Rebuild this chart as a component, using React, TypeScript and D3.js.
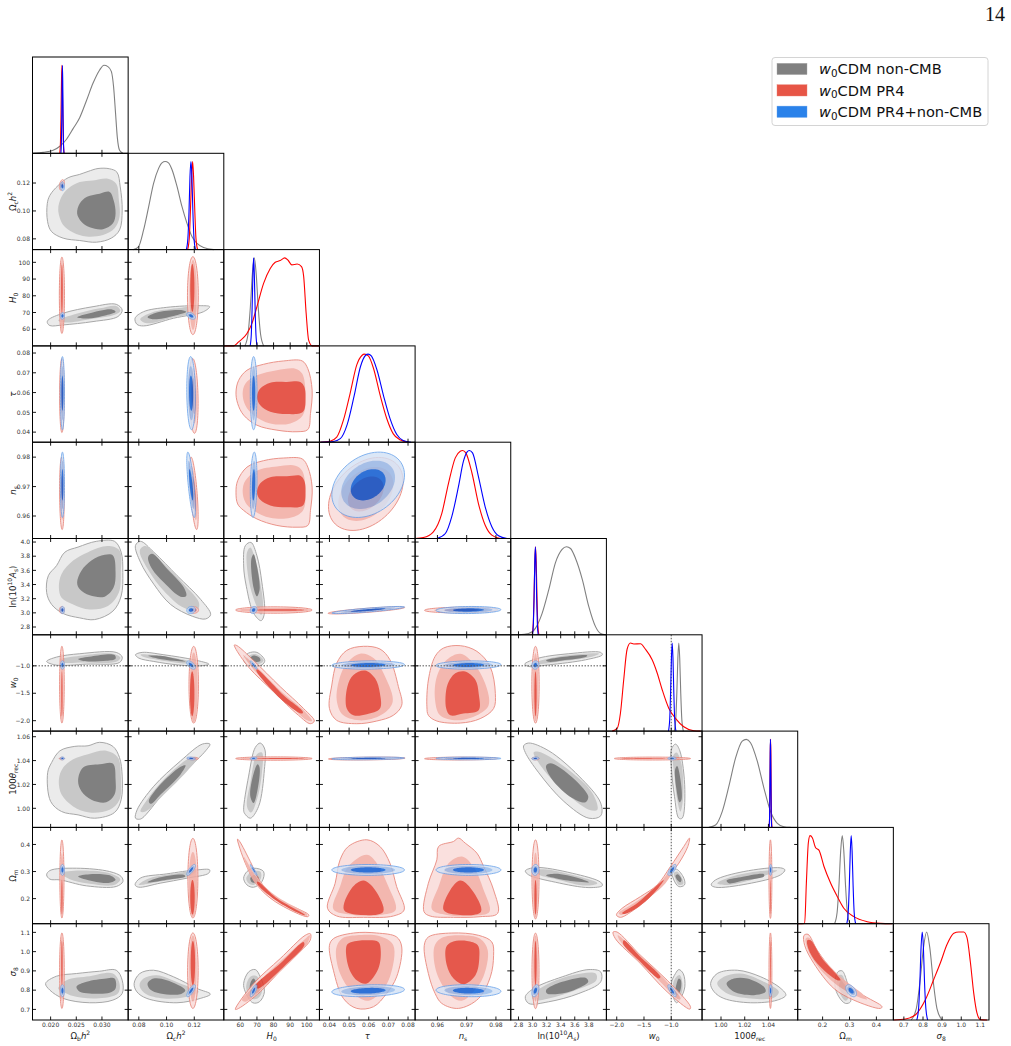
import React from 'react';
import * as d3 from 'd3';

// parameter order: Ωb h², Ωc h², H0, τ, ns, ln(10^10 As), w0, 100θrec, Ωm, σ8
const ranges: [number, number][] = [[0.01647, 0.0351], [0.0723, 0.1413], [50.06, 107.6], [0.0349, 0.0836], [0.95236, 0.98507], [2.69, 4.05], [-2.19, -0.434], [0.984, 1.0647], [0.1074, 0.463], [0.645, 1.145]];
const xTickValues = [[0.02, 0.025, 0.03], [0.08, 0.1, 0.12], [60, 70, 80, 90, 100], [0.04, 0.05, 0.06, 0.07, 0.08], [0.96, 0.97, 0.98], [2.8, 3.0, 3.2, 3.4, 3.6, 3.8], [-2, -1.5, -1], [1.0, 1.02, 1.04], [0.2, 0.3, 0.4], [0.7, 0.8, 0.9, 1.0, 1.1]];
const xTickLabels = [['0.020', '0.025', '0.030'], ['0.08', '0.10', '0.12'], ['60', '70', '80', '90', '100'], ['0.04', '0.05', '0.06', '0.07', '0.08'], ['0.96', '0.97', '0.98'], ['2.8', '3.0', '3.2', '3.4', '3.6', '3.8'], ['−2.0', '−1.5', '−1.0'], ['1.00', '1.02', '1.04'], ['0.2', '0.3', '0.4'], ['0.7', '0.8', '0.9', '1.0', '1.1']];
const yTickValues = [[], [0.08, 0.1, 0.12], [60, 70, 80, 90, 100], [0.04, 0.05, 0.06, 0.07, 0.08], [0.96, 0.97, 0.98], [2.8, 3.0, 3.2, 3.4, 3.6, 3.8, 4.0], [-2, -1.5, -1], [1.0, 1.02, 1.04, 1.06], [0.2, 0.3, 0.4], [0.7, 0.8, 0.9, 1.0, 1.1]];
const yTickLabels = [[], ['0.08', '0.10', '0.12'], ['60', '70', '80', '90', '100'], ['0.04', '0.05', '0.06', '0.07', '0.08'], ['0.96', '0.97', '0.98'], ['2.8', '3.0', '3.2', '3.4', '3.6', '3.8', '4.0'], ['−2.0', '−1.5', '−1.0'], ['1.00', '1.02', '1.04', '1.06'], ['0.2', '0.3', '0.4'], ['0.7', '0.8', '0.9', '1.0', '1.1']];

type Seg = { t: string; i?: boolean; sub?: boolean; sup?: boolean };
const axisLabels: Seg[][] = [
  [{ t: 'Ω' }, { t: 'b', sub: true }, { t: 'h', i: true }, { t: '2', sup: true }],
  [{ t: 'Ω' }, { t: 'c', sub: true }, { t: 'h', i: true }, { t: '2', sup: true }],
  [{ t: 'H', i: true }, { t: '0', sub: true }],
  [{ t: 'τ', i: true }],
  [{ t: 'n', i: true }, { t: 's', sub: true }],
  [{ t: 'ln(10' }, { t: '10', sup: true }, { t: 'A', i: true }, { t: 's', sub: true }, { t: ')' }],
  [{ t: 'w', i: true }, { t: '0', sub: true }],
  [{ t: '100' }, { t: 'θ', i: true }, { t: 'rec', sub: true }],
  [{ t: 'Ω' }, { t: 'm', sub: true }],
  [{ t: 'σ', i: true }, { t: '8', sub: true }],
];
const legendNames = ['CDM non-CMB', 'CDM PR4', 'CDM PR4+non-CMB'];
const wDashed = -1;

// one-dimensional marginals
const peak = [0, 0.13, 0.43, 0.83, 1, 0.83, 0.43, 0.13, 0];
const grayDiag: [number, number[], number[]][] = [
  [0, [.01663, .01856, .0205, .0218, .0231, .02438, .02568, .02697, .02825, .02955, .03039, .03116, .03182, .03226, .03265, .03298, .03343, .03407], [0, .011, .034, .08, .16, .28, .407, .597, .795, .947, 1, .985, .93, .757, .452, .186, .034, 0]],
  [1, [.0761, .0797, .0834, .087, .0906, .0942, .0967, .099, .1014, .1039, .1075, .1111, .1147, .1184, .122, .1267, .134], [0, .03, .22, .48, .75, .92, .985, 1, .985, .91, .72, .49, .3, .145, .07, .023, 0]],
  [2, [62.7, 64.6, 66, 67.3, 68.4, 69.5, 70.8, 72.2, 74.1], peak],
  [5, [2.8, 2.944, 3.04, 3.136, 3.23, 3.326, 3.42, 3.483, 3.54, 3.61, 3.707, 3.8, 3.897, 3.968, 4.04], [0, .015, .073, .244, .51, .82, .97, 1, .98, .87, .63, .32, .09, .015, 0]],
  [6, [-.945, -.917, -.897, -.878, -.861, -.844, -.825, -.805, -.777], peak],
  [7, [.9897, .9954, 1.001, 1.0066, 1.0123, 1.0179, 1.0213, 1.0249, 1.0306, 1.0362, 1.0418, 1.0475, 1.053, 1.0587], [0, .027, .18, .466, .79, .98, 1, .962, .752, .447, .18, .046, .008, 0]],
  [8, [.2445, .254, .2607, .2673, .273, .2787, .2853, .292, .3015], peak],
  [9, [.738, .765, .784, .803, .819, .835, .854, .873, .9], peak],
];
const redDiag: [number, number[], number[]][] = [
  [0, [.02178, .02192, .02202, .02212, .0222, .02228, .02238, .02248, .02262], peak],
  [1, [.1152, .1164, .1172, .1181, .1188, .1195, .1204, .1212, .1224], peak],
  [2, [50, 56, 59, 64, 67, 70, 74, 78, 81, 84, 86.7, 88.7, 91, 94.2, 96.8, 98.1, 99.6, 101.1, 103.2, 107.6], [0, 0, .046, .14, .256, .447, .71, .88, .95, .97, 1, .973, .92, .93, .9, .79, .37, .065, 0, 0]],
  [3, [.0353, .0403, .0437, .0471, .0505, .0539, .0565, .0578, .0598, .0624, .0658, .0692, .0725, .0759, .0801], [0, .011, .057, .25, .553, .878, .985, 1, .98, .84, .534, .267, .095, .027, 0]],
  [4, [.95236, .9552, .9586, .9615, .9638, .9661, .9678, .9686, .9697, .9718, .974, .9763, .9786, .9815], [0, .011, .076, .286, .63, .916, .992, 1, .973, .744, .4, .153, .038, 0]],
  [5, [2.994, 3.01, 3.021, 3.032, 3.042, 3.052, 3.063, 3.074, 3.09], peak],
  [6, [-2.085, -1.993, -1.933, -1.872, -1.81, -1.749, -1.688, -1.565, -1.473, -1.35, -1.258, -1.166, -1.045, -.922, -.769, -.585, -.462], [0, .03, .2, .584, .93, 1, .99, .992, .93, .81, .66, .47, .26, .145, .05, .004, 0]],
  [7, [1.0406, 1.041, 1.0413, 1.0415, 1.0418, 1.0421, 1.0423, 1.0426, 1.043], peak],
  [8, [.1085, .1333, .1396, .147, .1531, .1618, .174, .1863, .2048, .2296, .2544, .2789, .3159, .3655, .4148, .458], [0, .004, .46, .92, 1, .977, .863, .836, .653, .462, .31, .176, .08, .023, .004, 0]],
  [9, [.648, .709, .761, .813, .856, .891, .926, .961, .987, 1.013, 1.03, 1.048, 1.065, 1.082, 1.1, 1.135], [0, .011, .06, .232, .46, .65, .86, .985, 1, 1, .935, .65, .308, .08, .004, 0]],
];
const blueDiag: [number, number[], number[]][] = [
  [0, [.022, .0221, .02217, .02224, .0223, .02236, .02243, .0225, .0226], peak],
  [1, [.1143, .1154, .1162, .1169, .1176, .1183, .119, .1198, .1209], peak],
  [2, [65.9, 66.6, 67.1, 67.6, 68, 68.4, 68.9, 69.4, 70.1], peak],
  [3, [.0355, .042, .0455, .049, .0525, .0558, .0583, .0597, .0613, .0642, .0675, .0708, .0742, .0775, .0815], [0, .008, .04, .2, .52, .86, .985, 1, .98, .82, .53, .27, .09, .02, 0]],
  [4, [.9598, .9627, .9649, .9672, .9689, .9701, .9709, .972, .974, .9763, .9786, .9809, .9838], [0, .057, .248, .592, .878, .981, 1, .973, .706, .363, .134, .031, 0]],
  [5, [3.0, 3.012, 3.022, 3.032, 3.04, 3.048, 3.058, 3.068, 3.08], peak],
  [6, [-1.051, -1.028, -1.012, -.996, -.982, -.968, -.952, -.936, -.913], peak],
  [7, [1.0406, 1.041, 1.0412, 1.0415, 1.0417, 1.0419, 1.0422, 1.0424, 1.0428], peak],
  [8, [.2898, .2953, .2992, .303, .3063, .3096, .3134, .3173, .3228], peak],
  [9, [.7675, .777, .7836, .79, .796, .802, .808, .815, .8245], peak],
];

type Pts = [number[], number[]];
type Blob = [number, number, Pts, Pts, Pts];
const grayBlobs: Blob[] = [
  [0, 1,
    [[.01935, .01986, .02148, .02341, .02567, .02729, .02923, .03149, .03291, .03356, .03394, .03343, .03181, .02891, .02567, .02245, .02018, .01941], [.1053, .1112, .1183, .1238, .1262, .1283, .1304, .1302, .1278, .1172, .1006, .0864, .0805, .0776, .0788, .0805, .0852, .0923]],
    [[.02148, .02212, .02341, .02567, .02826, .03117, .03278, .0333, .03343, .03246, .0302, .02697, .02438, .02245], [.1006, .1101, .116, .1207, .1219, .1231, .1195, .1077, .0959, .0876, .0828, .0817, .0845, .0899]],
    [[.02516, .02567, .02709, .02955, .03149, .03227, .03265, .03214, .0302, .02761, .026], [.0982, .1053, .1101, .1124, .1136, .1077, .0982, .0911, .0869, .0883, .0923]]],
  [0, 2,
    [[.01935, .01954, .02245, .02826, .03278, .03394, .03311, .02826, .02245, .01986], [64, 65.6, 69.6, 73.5, 74.9, 71.5, 67.6, 64.6, 62.6, 62.2]],
    [[.02148, .02503, .02955, .03278, .03356, .03246, .02761, .02309], [65.2, 69.2, 72.5, 73.9, 71.1, 68.6, 66, 64]],
    [[.02516, .02761, .03181, .03265, .03084, .02697], [67.2, 69.6, 71.9, 70.5, 68.4, 66.4]]],
  [0, 5,
    [[.01923, .01955, .02116, .02277, .02535, .0289, .03245, .03374, .03406, .03374, .03213, .02858, .02568, .02245, .02019], [3.286, 3.524, 3.667, 3.857, 3.929, 4.01, 4.01, 3.857, 3.571, 3.238, 3.024, 2.905, 2.929, 2.99, 3.119]],
    [[.02161, .02213, .02439, .02729, .03116, .03342, .03368, .03329, .03116, .02761, .02439, .02213], [3.357, 3.548, 3.738, 3.857, 3.943, 3.881, 3.571, 3.286, 3.095, 3.048, 3.119, 3.214]],
    [[.02516, .026, .02794, .03052, .03213, .03265, .03226, .03052, .02761, .02568], [3.429, 3.595, 3.738, 3.819, 3.81, 3.571, 3.357, 3.229, 3.248, 3.333]]],
  [0, 6,
    [[.01923, .02116, .02568, .03277, .03394, .03342, .02697, .02116], [-.92, -.84, -.779, -.755, -.84, -.939, -.969, -.988]],
    [[.0218, .02568, .03213, .03361, .03277, .02632, .02245], [-.89, -.816, -.779, -.853, -.926, -.939, -.939]],
    [[.02535, .02794, .03245, .03265, .03084, .02632], [-.877, -.828, -.804, -.871, -.908, -.914]]],
  [0, 7,
    [[.01942, .02019, .02181, .02471, .02729, .02955, .03213, .03342, .03394, .03374, .03245, .02858, .02535, .02213, .02], [1.0298, 1.0383, 1.0482, 1.0519, 1.0524, 1.0553, 1.0519, 1.0425, 1.027, 1.0072, .9965, .9917, .9945, .9973, 1.0058]],
    [[.02161, .02245, .02439, .02729, .03084, .0331, .03368, .03342, .03148, .02761, .02439, .02213], [1.0242, 1.0341, 1.0411, 1.0454, 1.0482, 1.0425, 1.027, 1.0072, .9988, .9965, 1.0016, 1.0115]],
    [[.02535, .02632, .02955, .03213, .03265, .03245, .03084, .02794, .026], [1.0228, 1.0341, 1.0369, 1.0375, 1.0242, 1.0115, 1.005, 1.0072, 1.0143]]],
  [0, 8,
    [[.01922, .01986, .02503, .03149, .03375, .03408, .03278, .02697, .0218, .01986], [.2877, .3037, .3123, .3, .2816, .2632, .2448, .2472, .2693, .2718]],
    [[.02212, .02567, .03149, .03356, .03246, .02761, .02374], [.2939, .3037, .2939, .2718, .2509, .2546, .2718]],
    [[.02535, .02761, .03181, .03265, .03149, .02826], [.2816, .2902, .284, .2693, .2583, .2644]]],
  [0, 9,
    [[.01902, .02115, .02503, .02955, .03278, .03394, .03394, .03213, .02761, .02245, .01986], [.8345, .8724, .8862, .8983, .9034, .8517, .7828, .7483, .7345, .7569, .8]],
    [[.02148, .0231, .02761, .03213, .03342, .0331, .02891, .02438, .02245], [.8086, .8517, .8724, .8862, .8345, .7828, .7569, .769, .7914]],
    [[.02503, .027, .03084, .03246, .03265, .03149, .02761, .02567], [.8172, .8431, .8603, .8603, .8086, .7862, .7828, .7914]]],
  [1, 2,
    [[.0773, .0834, .1002, .1243, .1311, .1267, .1051, .0834, .0786], [66.6, 70.5, 73.1, 74.1, 73.5, 70.5, 66.6, 62, 63]],
    [[.081, .0894, .1075, .1231, .1207, .1051, .0858], [66, 70, 72.5, 73.5, 70, 67.2, 63.6]],
    [[.0863, .093, .1099, .1142, .1051, .0906], [67.2, 70, 71.5, 70.5, 68, 66]]],
  [1, 5,
    [[.0776, .0812, .0908, .1077, .1246, .1318, .1282, .1186, .1029, .0908, .0812], [3.952, 4.01, 3.857, 3.524, 3.19, 2.976, 2.914, 2.952, 3.119, 3.405, 3.714]],
    [[.0807, .0848, .0957, .1125, .1234, .1222, .1125, .0981, .0872], [3.881, 3.943, 3.738, 3.405, 3.143, 3.038, 3.071, 3.31, 3.595]],
    [[.0867, .0896, .1005, .1125, .1142, .1101, .0981, .0896], [3.786, 3.833, 3.619, 3.357, 3.238, 3.229, 3.429, 3.619]]],
  [1, 6,
    [[.0776, .0824, .0981, .1198, .1306, .1246, .1077, .0908, .08], [-.798, -.755, -.798, -.89, -.969, -1, -.982, -.92, -.859]],
    [[.0812, .0957, .1149, .1234, .1101, .0933, .0836], [-.798, -.816, -.902, -.969, -.951, -.89, -.841]],
    [[.0867, .0957, .1077, .1137, .1053, .0933], [-.816, -.816, -.877, -.92, -.908, -.865]]],
  [1, 7,
    [[.0776, .0788, .0908, .1101, .1258, .1313, .1282, .1149, .0981, .0824, .08], [.9917, .9988, 1.0185, 1.0397, 1.0538, 1.0538, 1.0482, 1.0327, 1.0129, .9917, .9908]],
    [[.0812, .086, .1005, .1173, .1222, .1149, .0981, .0848], [.9973, 1.0072, 1.027, 1.0425, 1.0425, 1.0312, 1.0115, .9973]],
    [[.0872, .0933, .1101, .1137, .1101, .0957, .0889], [1.0058, 1.0171, 1.0349, 1.036, 1.0284, 1.0115, 1.0038]]],
  [1, 8,
    [[.0773, .081, .1002, .1219, .1311, .1304, .1147, .0954, .0798], [.2509, .2755, .2914, .3061, .3061, .2939, .2755, .2571, .2423]],
    [[.0798, .0858, .1051, .1219, .1171, .0954, .0822], [.2509, .2718, .2914, .3025, .284, .2632, .2509]],
    [[.0863, .093, .1123, .1135, .1002, .0882], [.2607, .2755, .2877, .2816, .2693, .2595]]],
  [1, 9,
    [[.0766, .0807, .0906, .1051, .1219, .1316, .1243, .1075, .0858, .0786], [.8345, .8862, .9034, .869, .8086, .7793, .7569, .7345, .7569, .7914]],
    [[.0805, .0834, .093, .1099, .1231, .1147, .0978, .0846], [.8259, .8603, .8776, .8345, .7914, .7655, .7569, .7828]],
    [[.0863, .0906, .1002, .1135, .1099, .0954, .0882], [.8345, .8603, .8517, .8, .7793, .7828, .8034]]],
  [2, 5,
    [[63, 66.4, 70, 73, 74.5, 72.5, 68, 63.6, 62], [3.948, 3.995, 3.805, 3.424, 2.995, 2.89, 2.995, 3.376, 3.662]],
    [[64, 66, 69, 72, 73.7, 72.5, 69, 65], [3.852, 3.924, 3.757, 3.424, 3.09, 2.971, 3.138, 3.471]],
    [[66.6, 68, 70, 71.6, 70, 68], [3.757, 3.829, 3.662, 3.329, 3.233, 3.352]]],
  [2, 6,
    [[62, 65, 70, 74.7, 73, 67, 63], [-.859, -.767, -.755, -.902, -.982, -1, -.951]],
    [[63.6, 66, 70, 74, 71, 66], [-.877, -.804, -.791, -.902, -.969, -.951]],
    [[66, 68, 71.6, 72, 69], [-.859, -.81, -.853, -.914, -.926]]],
  [2, 7,
    [[62, 65, 69, 72, 74.7, 74.5, 71, 66, 62.5], [.9988, 1.027, 1.051, 1.0547, 1.0496, 1.0327, 1.0016, .9917, .9959]],
    [[64, 66, 70, 73, 73, 70, 66.4], [1.0016, 1.0214, 1.0454, 1.0468, 1.0298, 1.0072, .9965]],
    [[66, 67.6, 70.4, 71.6, 70.4, 68], [1.0101, 1.027, 1.0369, 1.0341, 1.0157, 1.0044]]],
  [2, 8,
    [[62, 64, 68, 74, 73, 68, 64], [.2753, .3, .3123, .3, .263, .242, .2506]],
    [[63.6, 67, 72, 72.4, 68, 65], [.2753, .3, .3, .2753, .2506, .2568]],
    [[66, 68.4, 71, 70, 67], [.2753, .2877, .279, .2605, .2605]]],
  [2, 9,
    [[62, 65, 69, 72, 74.5, 71.5, 67.5, 63], [.8345, .8948, .9069, .869, .7914, .7397, .7345, .7914]],
    [[63.6, 66, 70, 73, 70.4, 66, 64], [.8259, .869, .8724, .7914, .7569, .7569, .7914]],
    [[66, 68, 70.4, 71.6, 69, 66], [.8345, .8603, .8259, .7914, .7828, .7914]]],
  [5, 6,
    [[2.888, 3.088, 3.516, 3.969, 3.992, 3.754, 3.23, 2.945], [-.969, -.859, -.779, -.755, -.798, -.89, -.982, -1.012]],
    [[3.016, 3.373, 3.945, 3.826, 3.325, 3.064], [-.951, -.828, -.779, -.84, -.933, -.969]],
    [[3.192, 3.421, 3.778, 3.754, 3.421, 3.23], [-.902, -.84, -.81, -.84, -.902, -.926]]],
  [5, 7,
    [[2.873, 2.945, 3.23, 3.659, 3.969, 3.969, 3.802, 3.445, 3.088, 2.897], [1.0524, 1.0547, 1.0482, 1.027, 1.0044, .9937, .9917, 1.0058, 1.0298, 1.0468]],
    [[3.016, 3.088, 3.469, 3.85, 3.921, 3.802, 3.421, 3.135], [1.0468, 1.0473, 1.0341, 1.0129, .9988, .9988, 1.0157, 1.0341]],
    [[3.192, 3.254, 3.516, 3.792, 3.754, 3.564, 3.278], [1.0355, 1.0377, 1.0284, 1.01, 1.005, 1.0086, 1.0242]]],
  [5, 8,
    [[2.897, 3.04, 3.564, 3.969, 3.992, 3.802, 3.326, 2.945], [.3025, .3148, .2938, .2605, .2481, .2407, .2605, .2877]],
    [[3.016, 3.16, 3.564, 3.921, 3.754, 3.373, 3.088], [.3025, .3086, .2877, .2568, .2481, .2691, .2877]],
    [[3.192, 3.326, 3.659, 3.802, 3.611, 3.326], [.2852, .2914, .2753, .2605, .263, .2753]]],
  [5, 9,
    [[2.897, 3.016, 3.421, 3.802, 3.969, 3.969, 3.659, 3.23, 2.945], [.7655, .8086, .869, .9069, .8948, .8431, .7828, .7397, .731]],
    [[2.992, 3.183, 3.564, 3.897, 3.907, 3.61, 3.23, 3.016], [.7741, .8259, .8776, .8862, .8517, .8, .7569, .7483]],
    [[3.192, 3.421, 3.754, 3.792, 3.588, 3.326, 3.207], [.8, .8431, .8638, .8431, .8, .7793, .7828]]],
  [6, 7,
    [[-.995, -.922, -.842, -.75, -.799, -.86, -.94, -.995], [1.0496, 1.0538, 1.0482, 1.0157, .9917, .9917, 1.01, 1.0327]],
    [[-.965, -.903, -.817, -.78, -.83, -.891, -.94], [1.044, 1.0468, 1.0383, 1.01, .9973, 1.0072, 1.027]],
    [[-.928, -.891, -.83, -.811, -.848, -.903], [1.0327, 1.0355, 1.0242, 1.0072, 1.005, 1.0157]]],
  [6, 8,
    [[-.983, -.903, -.768, -.756, -.86, -.952], [.3, .3086, .2753, .2506, .2444, .2691]],
    [[-.952, -.891, -.787, -.781, -.86, -.928], [.2938, .3, .2691, .2543, .2506, .2753]],
    [[-.922, -.879, -.811, -.83, -.879], [.284, .2901, .2716, .2605, .2667]]],
  [6, 9,
    [[-1.0, -.922, -.86, -.78, -.75, -.83, -.903, -.965], [.8345, .8862, .9069, .8862, .8172, .7569, .7345, .7655]],
    [[-.965, -.903, -.842, -.793, -.811, -.891, -.94], [.8345, .869, .8776, .8345, .7828, .7517, .7828]],
    [[-.922, -.86, -.823, -.823, -.879, -.94], [.8086, .8603, .8517, .8086, .7741, .7828]]],
  [7, 8,
    [[.9917, .9954, 1.0193, 1.0502, 1.0539, 1.0502, 1.0221, .9954], [.2506, .2691, .3, .3136, .3062, .2877, .2543, .242]],
    [[.9968, 1.0109, 1.039, 1.0474, 1.0306, 1.0052], [.2568, .284, .3037, .3037, .2753, .2506]],
    [[1.0047, 1.0165, 1.0362, 1.0362, 1.0193, 1.0066], [.2667, .279, .2901, .2815, .2667, .2568]]],
  [7, 9,
    [[.9912, .9968, 1.0137, 1.0336, 1.0505, 1.0547, 1.0475, 1.0249, 1.0024, .9942], [.8345, .8862, .9034, .869, .8086, .7741, .7483, .7345, .7569, .7914]],
    [[.9968, 1.0024, 1.0165, 1.0362, 1.0488, 1.0446, 1.0249, 1.0052], [.8345, .869, .8862, .8431, .7914, .7603, .7569, .7828]],
    [[1.0047, 1.0109, 1.0221, 1.0362, 1.0376, 1.0278, 1.0109], [.8345, .8603, .8603, .8172, .7914, .7741, .7914]]],
  [8, 9,
    [[.2457, .2568, .2728, .2889, .3012, .3037, .2852, .2605], [.8259, .8948, .9, .8517, .7828, .7397, .731, .7655]],
    [[.2518, .2605, .2728, .2852, .2975, .2852, .2642], [.8345, .8776, .8776, .8345, .7655, .7448, .7828]],
    [[.2605, .2691, .279, .2975, .2889, .2728], [.8172, .8517, .8345, .7914, .769, .7828]]],
];

const redBlobs: Blob[] = [
  [2, 3,
    [[57.4, 59, 64, 74, 86.1, 97.2, 100.6, 103.2, 102.2, 100.6, 94.1, 82, 70, 62, 58.4], [.0603, .0662, .0713, .0743, .076, .076, .0721, .0612, .0494, .0413, .0402, .041, .0435, .0486, .0545]],
    [[61.4, 63, 70, 82, 93.1, 97.2, 99.2, 97.7, 90.1, 78, 68, 63], [.0595, .0645, .0687, .0713, .0721, .0696, .0595, .0486, .0444, .0444, .0486, .0536]],
    [[70, 72, 78, 88, 96.1, 98.5, 99.2, 97.7, 88, 78, 72], [.0578, .062, .065, .0654, .0654, .0629, .0578, .0503, .0491, .0503, .0536]]],
  [2, 4,
    [[57.4, 58.4, 64, 74, 86.1, 97.2, 100.6, 103.2, 102.2, 100.6, 94.1, 82, 70, 62, 58.4], [.9681, .972, .9766, .9788, .9797, .9794, .9766, .9698, .9619, .9568, .9562, .9568, .959, .9619, .9641]],
    [[61.4, 63, 70, 82, 93.1, 97.2, 99.2, 97.7, 90.1, 78, 68, 63], [.9686, .972, .9754, .9768, .9771, .9754, .9686, .9619, .9594, .9594, .9619, .9647]],
    [[70, 72, 78, 88, 96.1, 98.5, 99.2, 97.7, 88, 78, 72], [.9681, .9711, .9732, .9735, .9737, .972, .9686, .9636, .963, .9636, .9655]]],
  [2, 6,
    [[56.4, 58, 68, 84, 98.1, 104.5, 102.1, 95, 80, 65, 57], [-.62, -.632, -.902, -1.38, -1.78, -2.006, -2.055, -1.902, -1.472, -1.025, -.675]],
    [[61.6, 70, 86, 98.1, 103.2, 100.2, 84, 69], [-.798, -1.025, -1.503, -1.81, -2.006, -1.994, -1.534, -1.104]],
    [[70, 86, 97.7, 97, 84, 69.6], [-1.061, -1.534, -1.84, -1.871, -1.595, -1.086]]],
  [2, 8,
    [[58.3, 59.6, 66, 72, 82, 101.2, 100.6, 81, 70, 63], [.4198, .4111, .337, .263, .2012, .1395, .1333, .1889, .2506, .3309]],
    [[62, 71, 82, 100.2, 99.7, 81, 69], [.3556, .2691, .2074, .1407, .1358, .1975, .2568]],
    [[70.4, 82, 99, 98, 81, 70], [.263, .2012, .1395, .1395, .1951, .2568]]],
  [2, 9,
    [[57, 68, 84, 99, 102.1, 102, 87.9, 72, 59], [.7, .8345, .9638, 1.0845, 1.0931, 1.0586, .9379, .7914, .7052]],
    [[61, 70, 86, 99.1, 101.8, 100.2, 86, 70, 63], [.7483, .8345, .9638, 1.0672, 1.0845, 1.0414, .9121, .7828, .7397]],
    [[69, 84, 98, 98.5, 86, 70.5], [.8207, .9379, 1.05, 1.0328, .9207, .8086]]],
  [3, 6,
    [[.04, .0412, .0437, .0488, .0573, .0657, .0708, .0751, .0768, .0725, .0641, .0539, .0437], [-1.779, -1.35, -.951, -.718, -.644, -.693, -.89, -1.38, -1.718, -1.902, -2.006, -2.055, -1.994]],
    [[.0437, .0454, .0488, .0556, .0624, .0683, .0722, .0675, .0573, .0471], [-1.626, -1.196, -.951, -.779, -.859, -1.196, -1.656, -1.871, -1.994, -1.902]],
    [[.0488, .0491, .0522, .0581, .0632, .0657, .0657, .059, .0522], [-1.779, -1.38, -1.166, -1.086, -1.227, -1.503, -1.779, -1.883, -1.902]]],
  [4, 6,
    [[.9564, .9569, .9592, .9621, .9678, .9735, .978, .9798, .9792, .9746, .9678, .9598, .9569], [-1.748, -1.258, -.828, -.675, -.632, -.736, -1.012, -1.503, -1.779, -1.963, -2.043, -2.006, -1.902]],
    [[.9592, .9598, .9632, .9678, .9723, .9763, .9775, .9735, .9666, .9609], [-1.626, -1.196, -.89, -.779, -.951, -1.319, -1.718, -1.902, -1.994, -1.902]],
    [[.963, .9634, .9661, .9695, .973, .9741, .9741, .9689, .9644], [-1.779, -1.35, -1.135, -1.104, -1.258, -1.503, -1.81, -1.871, -1.902]]],
  [3, 8,
    [[.039, .0429, .0454, .0496, .059, .0657, .0708, .0742, .078, .0725, .0573, .0437], [.1642, .2568, .3432, .3926, .4173, .3926, .3309, .2444, .158, .1358, .1309, .1358]],
    [[.042, .0454, .0496, .059, .0641, .07, .0737, .0657, .0522], [.1605, .2444, .3185, .3617, .3309, .2444, .158, .1395, .1395]],
    [[.0474, .0513, .0573, .0632, .0674, .0573], [.158, .2383, .2667, .2321, .1519, .1395]]],
  [4, 8,
    [[.9554, .9569, .9598, .9604, .9655, .9672, .9695, .9735, .9758, .9792, .9806, .9746, .9655, .9575], [.1519, .2568, .3432, .3926, .4111, .4235, .4049, .3679, .3185, .2321, .1457, .1333, .1309, .1358]],
    [[.9581, .9604, .9638, .9684, .9723, .9758, .9778, .9723, .9632], [.1605, .2444, .3309, .3556, .3185, .2321, .1519, .137, .1395]],
    [[.9621, .9644, .9678, .9718, .9749, .9678], [.158, .2321, .2667, .2321, .1519, .1395]]],
  [3, 9,
    [[.04, .042, .0522, .0641, .0742, .0768, .0742, .0691, .0624, .0539, .0471, .042], [1.0328, 1.0672, 1.0966, 1.0966, 1.0759, 1.0241, .869, .7828, .7138, .7052, .7569, .9034]],
    [[.0434, .0463, .0539, .0657, .0725, .0708, .0657, .059, .0514, .0454], [1.0155, 1.0672, 1.0845, 1.0793, 1.0328, .869, .7828, .7448, .7914, .8862]],
    [[.0488, .0513, .059, .0649, .0661, .0649, .059, .0539, .0497], [1.0328, 1.05, 1.0586, 1.05, 1.0069, .9121, .8345, .8517, .9207]]],
  [4, 9,
    [[.9555, .9569, .9649, .9741, .9786, .9792, .9781, .9741, .9672, .9615, .9592, .9569], [1.0328, 1.0759, 1.0966, 1.0845, 1.05, .981, .869, .7569, .7052, .731, .7828, .8862]],
    [[.9589, .961, .9667, .9746, .9772, .9757, .9723, .9683, .9643, .9598], [1.0241, 1.0672, 1.0845, 1.0672, 1.0069, .869, .7914, .7448, .7741, .8862]],
    [[.963, .965, .9701, .9738, .9743, .973, .969, .9655, .9632], [1.0241, 1.05, 1.0552, 1.0328, .9638, .8776, .831, .8603, .9293]]],
  [6, 8,
    [[-2.006, -1.902, -1.565, -1.258, -1.014, -.769, -.664, -.695, -.86, -1.075, -1.381, -1.688, -1.933], [.1395, .1642, .2074, .2506, .3185, .3926, .4235, .3926, .3309, .2753, .2074, .158, .1309]],
    [[-1.963, -1.688, -1.381, -1.136, -.92, -.952, -1.105, -1.381, -1.688, -1.92], [.1457, .1827, .2259, .2753, .3309, .3062, .2568, .2074, .1642, .1395]],
    [[-1.902, -1.626, -1.32, -1.136, -1.29, -1.596, -1.859], [.1457, .1827, .2383, .2691, .2259, .1704, .1432]]],
  [6, 9,
    [[-2.067, -1.994, -1.565, -1.075, -.646, -.658, -1.075, -1.565, -2.025], [1.1017, 1.1017, .981, .8517, .7138, .7017, .7914, .9379, 1.0672]],
    [[-1.982, -1.626, -1.136, -.83, -.86, -1.32, -1.688, -1.963], [1.0845, .9983, .8603, .7569, .7517, .8776, .9724, 1.0672]],
    [[-1.871, -1.565, -1.197, -1.228, -1.595, -1.884], [1.0586, .9724, .869, .8603, .9552, 1.0414]]],
  [8, 9,
    [[.1309, .1457, .1802, .242, .3407, .421, .4148, .316, .242, .1679, .1333], [1.0845, 1.0897, 1.0069, .8948, .7828, .7138, .7052, .7483, .8086, .9379, 1.0328]],
    [[.137, .1494, .1926, .2667, .3531, .3654, .2914, .2173, .1617, .1395], [1.0672, 1.0724, .981, .869, .7741, .7517, .7914, .869, .9638, 1.0328]],
    [[.1432, .1555, .1988, .2667, .2543, .1802, .1469], [1.0586, 1.0586, .9638, .8517, .8517, .9379, 1.0155]]],
];

// red contours that are close to ellipses: x index, y index, centre x, centre y, half width, half height, correlation
const redEllipses: number[][] = [
  [0, 1, .0222, .1186, .0005, .0038, .3],
  [0, 3, .0222, .0585, .00045, .0187, 0],
  [0, 4, .0222, .9677, .00045, .0123, -.1],
  [0, 5, .0222, 3.04, .0005, .048, 0],
  [0, 7, .0222, 1.0417, .0005, .001, 0],
  [1, 3, .1195, .0583, .00325, .0189, -.2],
  [1, 4, .1197, .9677, .0031, .0123, -.65],
  [1, 5, .1198, 3.04, .0033, .045, 0],
  [1, 7, .119, 1.0417, .004, .001, 0],
  [3, 4, .0585, .9675, .019, .0124, .35],
  [3, 5, .0588, 3.035, .0195, .05, .82],
  [3, 7, .059, 1.0417, .0195, .0012, .3],
  [4, 5, .9681, 3.04, .0125, .04, .1],
  [4, 7, .9681, 1.0417, .0125, .0012, .1],
  [5, 7, 3.042, 1.0417, .052, .0011, 0],
];
// long thin red contours, one ellipse for each level: x index, y index, then (cx, cy, rx, ry) for outer, middle, inner
const redStretched: number[][] = [
  [0, 2, .0222, 80.3, .0005, 22.8, .0222, 80, .00036, 21, .0222, 84, .00016, 14.5],
  [0, 6, .0222, -1.343, .00045, .7, .0222, -1.39, .0003, .62, .0222, -1.51, .00012, .41],
  [0, 8, .0222, .2724, .0004, .144, .0222, .251, .0003, .117, .0222, .205, .00012, .064],
  [0, 9, .0222, .901, .00045, .196, .0222, .912, .0003, .172, .0222, .94, .00013, .115],
  [1, 2, .119, 80.1, .0039, 23.3, .1191, 80.5, .0027, 20.9, .1186, 84.7, .0015, 14.3],
  [1, 6, .1196, -1.345, .0034, .7, .1196, -1.39, .0028, .635, .1185, -1.51, .0016, .41],
  [1, 8, .119, .2755, .0036, .147, .119, .2526, .003, .12, .1187, .205, .0016, .064],
  [1, 9, .119, .901, .0038, .196, .119, .912, .0027, .172, .119, .94, .0016, .115],
  [5, 6, 3.042, -1.345, .052, .7, 3.042, -1.39, .038, .62, 3.042, -1.51, .016, .41],
  [5, 8, 3.042, .271, .05, .146, 3.042, .25, .036, .12, 3.042, .205, .016, .064],
  [5, 9, 3.042, .9, .05, .196, 3.042, .912, .036, .172, 3.042, .94, .016, .115],
  [7, 8, 1.0417, .272, .0012, .145, 1.0417, .25, .0008, .12, 1.0417, .205, .0003, .064],
  [7, 9, 1.0417, .901, .0012, .196, 1.0417, .912, .0008, .172, 1.0417, .94, .0003, .115],
  [6, 7, -1.345, 1.0417, .7, .0012, -1.39, 1.0417, .62, .0008, -1.51, 1.0417, .41, .0003],
  [2, 5, 80.2, 3.04, 23, .045, 80.5, 3.04, 21.5, .03, 84, 3.04, 14.5, .012],
  [2, 7, 80.2, 1.0417, 23, .0014, 80.5, 1.0417, 21, .0009, 84, 1.0417, 14.5, .0004],
];
// the blue contours are ellipses: centre and half width per parameter, then the correlation per panel
const blueCentres = [.0223, .1177, 68, .0597, .9706, 3.04, -.985, 1.0418, .306, .797];
const blueHalfWidths = [.0004, .0031, 2, .0185, .0111, .05, .075, .0011, .02, .031];
const blueCorrelations: number[][] = [
  [0, 1, -.1], [0, 2, .1], [0, 3, 0], [0, 4, 0], [0, 5, 0], [0, 6, 0], [0, 7, 0], [0, 8, 0], [0, 9, 0],
  [1, 2, -.45], [1, 3, -.1], [1, 4, -.75], [1, 5, .1], [1, 6, -.6], [1, 7, -.3], [1, 8, .8], [1, 9, .8],
  [2, 3, 0], [2, 4, .2], [2, 5, .2], [2, 6, -.9], [2, 7, .2], [2, 8, -.95], [2, 9, .75],
  [3, 4, .3], [3, 5, .85], [3, 6, .1], [3, 7, .3], [3, 8, 0], [3, 9, .2],
  [4, 5, .1], [4, 6, .1], [4, 7, 0], [4, 8, 0], [4, 9, -.1],
  [5, 6, .1], [5, 7, .2], [5, 8, .1], [5, 9, .4],
  [6, 7, 0], [6, 8, .75], [6, 9, -.8], [7, 8, .1], [7, 9, .1], [8, 9, -.5],
];

const levelScales = [1, 0.74, 0.48];
const LEFT = 32.5, TOP = 57, CW = 95.65, CH = 96.3, N = 10;
const FONT = '"DejaVu Sans", sans-serif';
const TICK_SIZE = 6;
const LABEL_SIZE = 8.6;
const chains = {
  gray: { op: 1, fills: ['#ebebeb', '#c8c8c8', '#808080'], edge: '#a8a8a8', line: '#808080' },
  red: { op: 0.85, fills: ['rgb(250,219,217)', 'rgb(241,171,162)', 'rgb(225,60,45)'], edge: 'rgb(232,130,118)', line: '#ff0000' },
  blue: { op: 0.8, fills: ['rgb(211,226,246)', 'rgb(146,184,234)', 'rgb(0,96,224)'], edge: 'rgb(100,160,235)', line: '#0000ff' },
};

const xScale = (i: number) => d3.scaleLinear().domain(ranges[i]).range([LEFT + i * CW, LEFT + (i + 1) * CW]);
const yScale = (i: number) => d3.scaleLinear().domain(ranges[i]).range([TOP + (i + 1) * CH, TOP + i * CH]);
const diagY = (i: number) => d3.scaleLinear().domain([0, 1.094]).range([TOP + (i + 1) * CH, TOP + i * CH]);
const closed = d3.line().curve(d3.curveCatmullRomClosed.alpha(0.5));
const polygon = d3.line().curve(d3.curveLinearClosed);
const open = d3.line().curve(d3.curveMonotoneX);

function blobPath(xi: number, yi: number, p: Pts) {
  const sx = xScale(xi), sy = yScale(yi);
  return closed(p[0].map((v, k) => [sx(v), sy(p[1][k])] as [number, number])) as string;
}
function ellipsePath(xi: number, yi: number, cx: number, cy: number, rx: number, ry: number, rho: number) {
  const sx = xScale(xi), sy = yScale(yi);
  const pts = d3.range(72).map((k) => {
    const t = (k / 72) * 2 * Math.PI;
    return [sx(cx + rx * Math.cos(t)), sy(cy + ry * (rho * Math.cos(t) + Math.sqrt(1 - rho * rho) * Math.sin(t)))] as [number, number];
  });
  return polygon(pts) as string;
}
function Contour({ d, level, c }: { d: string; level: number; c: typeof chains.gray }) {
  return <path d={d} fill={c.fills[level]} stroke={level === 0 ? c.edge : 'none'} strokeWidth={1} />;
}
function MathText({ segs, size }: { segs: Seg[]; size: number }) {
  let shift = 0;
  return (
    <>
      {segs.map((s, k) => {
        const target = s.sub ? size * 0.24 : s.sup ? -size * 0.42 : 0;
        const dy = target - shift;
        shift = target;
        return <tspan key={k} dy={dy} fontStyle={s.i ? 'italic' : 'normal'} fontSize={s.sub || s.sup ? size * 0.7 : size}>{s.t}</tspan>;
      })}
    </>
  );
}

export default function App() {
  const g: React.ReactNode[] = [], r: React.ReactNode[] = [], b: React.ReactNode[] = [];
  grayBlobs.forEach(([xi, yi, a, m, n], k) => {
    [a, m, n].forEach((p, l) => g.push(<Contour key={`g${k}-${l}`} d={blobPath(xi, yi, p)} level={l} c={chains.gray} />));
  });
  redBlobs.forEach(([xi, yi, a, m, n], k) => {
    [a, m, n].forEach((p, l) => r.push(<Contour key={`rb${k}-${l}`} d={blobPath(xi, yi, p)} level={l} c={chains.red} />));
  });
  redEllipses.forEach(([xi, yi, cx, cy, rx, ry, rho], k) => {
    levelScales.forEach((s, l) => r.push(<Contour key={`re${k}-${l}`} d={ellipsePath(xi, yi, cx, cy, rx * s, ry * s, rho)} level={l} c={chains.red} />));
  });
  redStretched.forEach((e, k) => {
    [0, 1, 2].forEach((l) => {
      const o = 2 + l * 4;
      r.push(<Contour key={`rs${k}-${l}`} d={ellipsePath(e[0], e[1], e[o], e[o + 1], e[o + 2], e[o + 3], 0)} level={l} c={chains.red} />);
    });
  });
  blueCorrelations.forEach(([xi, yi, rho], k) => {
    levelScales.forEach((s, l) => b.push(<Contour key={`b${k}-${l}`} d={ellipsePath(xi, yi, blueCentres[xi], blueCentres[yi], blueHalfWidths[xi] * s, blueHalfWidths[yi] * s, rho)} level={l} c={chains.blue} />));
  });

  const frames: React.ReactNode[] = [];
  for (let row = 0; row < N; row++) {
    for (let col = 0; col <= row; col++) {
      const x0 = LEFT + col * CW, x1 = x0 + CW, y0 = TOP + row * CH, y1 = y0 + CH;
      const sx = xScale(col), sy = yScale(row);
      const marks: React.ReactNode[] = [];
      xTickValues[col].forEach((v, k) => {
        marks.push(<line key={`xb${k}`} x1={sx(v)} x2={sx(v)} y1={y1} y2={y1 - 3.5} />);
        if (row !== col) marks.push(<line key={`xt${k}`} x1={sx(v)} x2={sx(v)} y1={y0} y2={y0 + 3.5} />);
      });
      if (row !== col) yTickValues[row].forEach((v, k) => {
        marks.push(<line key={`yl${k}`} x1={x0} x2={x0 + 3.5} y1={sy(v)} y2={sy(v)} />);
        marks.push(<line key={`yr${k}`} x1={x1} x2={x1 - 3.5} y1={sy(v)} y2={sy(v)} />);
      });
      frames.push(
        <g key={`f${row}-${col}`} stroke="#000" strokeWidth={0.9}>
          {marks}
          <rect x={x0} y={y0} width={CW} height={CH} fill="none" strokeWidth={1} />
        </g>
      );
    }
  }

  const lines: React.ReactNode[] = [];
  ([[grayDiag, chains.gray], [redDiag, chains.red], [blueDiag, chains.blue]] as const).forEach(([series, c], si) => {
    series.forEach(([i, xs, ys]) => {
      const sx = xScale(i), sy = diagY(i);
      lines.push(<path key={`d${si}-${i}`} d={open(xs.map((v, k) => [sx(v), sy(ys[k])] as [number, number])) as string} fill="none" stroke={c.line} strokeWidth={1.1} />);
    });
  });

  const sw = xScale(6)(wDashed), yw = yScale(6)(wDashed);

  const labels: React.ReactNode[] = [];
  for (let i = 0; i < N; i++) {
    const sx = xScale(i), sy = yScale(i), cx = LEFT + (i + 0.5) * CW, cy = TOP + (i + 0.5) * CH;
    xTickValues[i].forEach((v, k) => labels.push(<text key={`xl${i}-${k}`} x={sx(v)} y={1027.4} textAnchor="middle" fontSize={TICK_SIZE} fill="#333">{xTickLabels[i][k]}</text>));
    yTickValues[i].forEach((v, k) => labels.push(<text key={`yl${i}-${k}`} x={30} y={sy(v) + 2.2} textAnchor="end" fontSize={TICK_SIZE} fill="#333">{yTickLabels[i][k]}</text>));
    labels.push(<text key={`xa${i}`} x={cx} y={1039} textAnchor="middle" fill="#222"><MathText segs={axisLabels[i]} size={LABEL_SIZE} /></text>);
    if (i > 0) labels.push(<text key={`ya${i}`} transform={`translate(15.5,${cy}) rotate(-90)`} textAnchor="middle" fill="#222"><MathText segs={axisLabels[i]} size={LABEL_SIZE} /></text>);
  }

  return (
    <svg width={1011} height={1046} viewBox="0 0 1011 1046" fontFamily={FONT} style={{ position: 'absolute', left: 0, top: 0, display: 'block', background: '#fff' }}>
      <g>{g}</g>
      <g opacity={chains.red.op}>{r}</g>
      <g opacity={chains.blue.op}>{b}</g>
      <line x1={LEFT} x2={LEFT + 6 * CW} y1={yw} y2={yw} stroke="#555" strokeWidth={1} strokeDasharray="1.5 1.5" />
      <line x1={sw} x2={sw} y1={TOP + 6 * CH} y2={TOP + 10 * CH} stroke="#555" strokeWidth={1} strokeDasharray="1.5 1.5" />
      {lines}
      {frames}
      {labels}
      <text x={1005} y={21} textAnchor="end" fontFamily='"Liberation Serif", serif' fontSize={20} fill="#111">14</text>
      <rect x={772} y={57.5} width={216} height={68} rx={3} fill="#fff" stroke="#d4d4d4" strokeWidth={1} />
      {legendNames.map((name, k) => {
        const y = 63.3 + k * 21.4;
        const c = [chains.gray, chains.red, chains.blue][k];
        const solid = ['#808080', '#e75546', '#2a82ea'][k];
        return (
          <g key={name}>
            <rect x={777} y={y} width={30} height={11.3} fill={solid} stroke={c.edge} strokeWidth={0.4} />
            <text x={819} y={y + 11} fontSize={14.6} fill="#111">
              <tspan fontStyle="italic">w</tspan>
              <tspan dy={2.5} fontSize={10.4}>0</tspan>
              <tspan dy={-2.5}>{name}</tspan>
            </text>
          </g>
        );
      })}
    </svg>
  );
}
